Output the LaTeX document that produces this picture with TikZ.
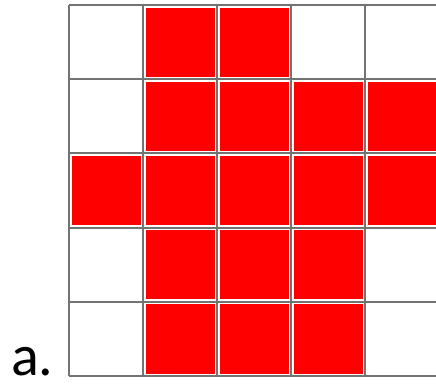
\documentclass[tikz,border=0pt]{standalone}
\usepackage{fontspec}
\setmainfont{Carlito}
\begin{document}
\begin{tikzpicture}[x=1pt,y=-1pt,
  cellfill/.style={fill=red,draw=none},
  gridline/.style={draw=black!55,line width=2pt}]
\useasboundingbox (0,0) rectangle (436,384);
\begin{scope}
\clip (0,0) rectangle (436,384);
\foreach \r/\c in {0/1,0/2, 1/1,1/2,1/3,1/4, 2/0,2/1,2/2,2/3,2/4, 3/1,3/2,3/3, 4/1,4/2,4/3}{
  \fill[cellfill] ({69+\c*74+2.5},{5+\r*74.2+2.5}) rectangle ({69+(\c+1)*74-2.5},{5+(\r+1)*74.2-2.5});
}
\foreach \c in {0,...,5}{
  \draw[gridline] ({69+\c*74},5) -- ({69+\c*74},376);
}
\foreach \r in {0,...,5}{
  \draw[gridline] (69,{5+\r*74.2}) -- (445,{5+\r*74.2});
}
\end{scope}
\node[anchor=base west,inner sep=0pt,text depth=0pt,font=\fontsize{58}{58}\selectfont] (lab) at (11,375) {a.};
\end{tikzpicture}
\end{document}
